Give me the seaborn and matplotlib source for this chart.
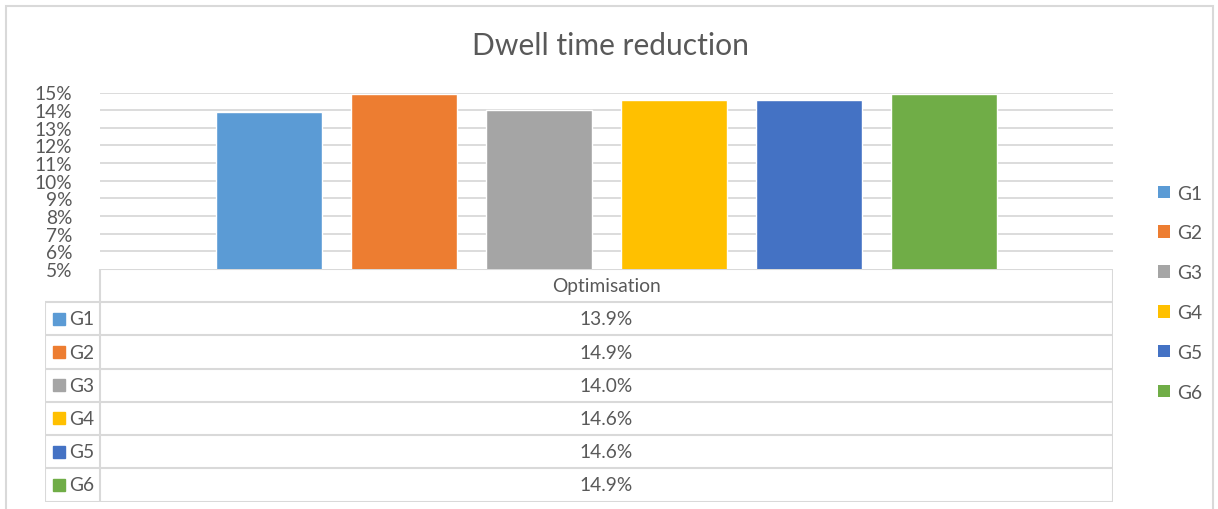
import matplotlib
matplotlib.use("Agg")
import matplotlib.pyplot as plt
from matplotlib.patches import Patch, Rectangle
import seaborn as sns
import pandas as pd

# Data
groups = ["G1", "G2", "G3", "G4", "G5", "G6"]
reduction = [13.9, 14.9, 14.0, 14.6, 14.6, 14.9]
category = "Optimisation"
colors = ["#5B9BD5", "#ED7D31", "#A5A5A5", "#FFC000", "#4472C4", "#70AD47"]
y_ticks = [5, 6, 7, 8, 9, 10, 11, 12, 13, 14, 15]

TEXT = "#595959"
GRID = "#D9D9D9"
FS = 13.8

sns.set_theme(style="white")
plt.rcParams["font.family"] = ["Lato", "DejaVu Sans"]

W, H = 1218, 510
fig = plt.figure(figsize=(W / 100, H / 100), dpi=100)
fig.patch.set_facecolor("white")


def box(x0, y0, x1, y1):
    """Pixel box (top-left origin) -> figure fraction rect."""
    return [x0 / W, 1 - y1 / H, (x1 - x0) / W, (y1 - y0) / H]


# Chart frame
fig.add_artist(Rectangle((6 / W, -0.05), (1213 - 6) / W, 1 - 7 / H + 0.05,
                         transform=fig.transFigure, fill=False,
                         edgecolor=GRID, linewidth=1.5))

# Bar area
ax = fig.add_axes(box(100, 93.5, 1113, 270))
df = pd.DataFrame({"group": groups, "value": reduction})
sns.barplot(data=df, x="group", y="value", hue="group", palette=colors,
            width=0.785, legend=False, ax=ax, saturation=1)
ax.set_xlim(-1.25, len(groups) + 0.25)
ax.set_ylim(y_ticks[0], y_ticks[-1])
ax.set_yticks(y_ticks)
ax.set_yticklabels([f"{t}%" for t in y_ticks])
ax.set_xticks([])
ax.set_xlabel("")
ax.set_ylabel("")
ax.tick_params(axis="y", length=0, pad=20, labelsize=FS, labelcolor=TEXT)
for t in y_ticks[1:]:
    ax.axhline(t, color=GRID, linewidth=1.3, zorder=0)
for s in ax.spines.values():
    s.set_visible(False)

fig.text(610 / W, 1 - 46 / H, "Dwell time reduction",
         ha="center", va="center", fontsize=21.6, color=TEXT)

# Data table below the bars
tab = fig.add_axes(box(45, 270, 1113, 502.5))
n = len(groups)
tab.set_xlim(45, 1113)
tab.set_ylim(n + 1, 0)
tab.axis("off")
tab.hlines(0, 100, 1113, color=GRID, linewidth=1.5)
tab.hlines(range(1, n + 2), 45, 1113, color=GRID, linewidth=1.5)
tab.vlines([100, 1113], 0, n + 1, color=GRID, linewidth=1.5)
tab.vlines(45, 1, n + 1, color=GRID, linewidth=1.5)
mid = (100 + 1113) / 2
tab.text(mid, 0.5, category, ha="center", va="center", fontsize=FS, color=TEXT)
for i, (g, v, c) in enumerate(zip(groups, reduction, colors)):
    r = i + 1.5
    tab.plot([59], [r], marker="s", markersize=8.5, color=c, linestyle="none")
    tab.text(69, r, g, ha="left", va="center", fontsize=FS, color=TEXT)
    tab.text(mid, r, f"{v:.1f}%", ha="center", va="center", fontsize=FS, color=TEXT)

# Legend on the right
handles = [Patch(facecolor=c, edgecolor="none", label=g) for g, c in zip(groups, colors)]
fig.legend(handles=handles, loc="upper left",
           bbox_to_anchor=(1150 / W, 1 - 178 / H), frameon=False,
           fontsize=FS, labelcolor=TEXT, handlelength=0.64, handleheight=0.64,
           handletextpad=0.35, labelspacing=1.19, borderaxespad=0)

fig.savefig("out.png", dpi=100, facecolor="white")
